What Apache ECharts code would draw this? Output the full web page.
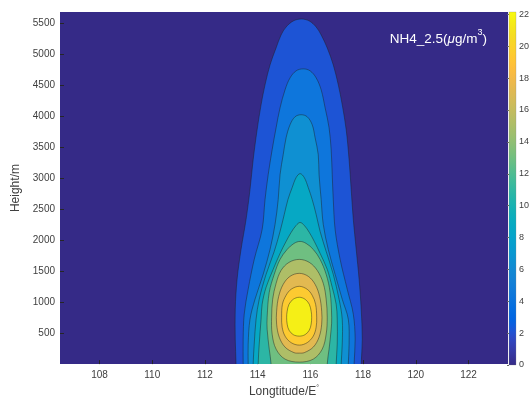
<!DOCTYPE html>
<html><head><meta charset="utf-8">
<script src="https://cdn.jsdelivr.net/npm/echarts@6/dist/echarts.min.js"></script>
<style>html,body{margin:0;padding:0;background:#fff}#c{width:532px;height:403px}</style>
</head><body><div id="c"></div>
<script>
// ---- data ----
const lonTicks = [108,110,112,114,116,118,120,122];
const heightTicks = [500,1000,1500,2000,2500,3000,3500,4000,4500,5000,5500];
const colorbarTicks = [0,2,4,6,8,10,12,14,16,18,20,22];
const levels = [2,4,6,8,10,12,14,16,18,20];
// contour lines: [longitude, height(m)]
const c02 = [[113.18,0],[113.15,402],[113.15,885],[113.22,1368],[113.37,1850],[113.56,2333],[113.71,2816],[113.83,3298],[113.98,3781],[114.13,4183],[114.28,4505],[114.47,4827],[114.70,5101],[114.89,5310],[115.08,5438],[115.35,5535],[115.65,5567],[115.96,5535],[116.22,5438],[116.41,5310],[116.64,5101],[116.87,4827],[117.06,4505],[117.21,4183],[117.36,3781],[117.47,3298],[117.55,2816],[117.63,2333],[117.74,1850],[117.85,1368],[117.93,885],[117.97,402],[117.93,0]];
const c04 = [[113.45,0],[113.45,402],[113.49,805],[113.64,1207],[113.87,1689],[114.17,2172],[114.28,2655],[114.40,3057],[114.55,3459],[114.70,3813],[114.85,4135],[115.04,4425],[115.23,4618],[115.46,4731],[115.73,4763],[115.99,4731],[116.22,4618],[116.41,4425],[116.56,4135],[116.71,3813],[116.79,3459],[116.83,3057],[116.87,2655],[116.94,2172],[117.13,1689],[117.40,1207],[117.63,805],[117.70,402],[117.66,0]];
const c06 = [[113.64,0],[113.64,322],[113.71,724],[113.90,1046],[114.21,1448],[114.47,1850],[114.66,2253],[114.78,2655],[114.85,3057],[114.97,3379],[115.08,3652],[115.23,3862],[115.42,3990],[115.65,4023],[115.88,3990],[116.07,3862],[116.18,3652],[116.30,3379],[116.33,3057],[116.41,2655],[116.49,2253],[116.68,1850],[116.94,1448],[117.21,1046],[117.44,724],[117.47,322],[117.44,0]];
const c08 = [[113.83,0],[113.87,322],[113.94,724],[114.06,1046],[114.32,1448],[114.63,1818],[114.85,2140],[115.01,2414],[115.15,2655],[115.31,2848],[115.46,3009],[115.61,3073],[115.77,3009],[115.92,2848],[116.07,2655],[116.22,2414],[116.37,2140],[116.60,1818],[116.87,1448],[117.09,1046],[117.21,724],[117.21,322],[117.17,0]];
const c10 = [[114.02,0],[114.06,322],[114.13,724],[114.17,965],[114.32,1239],[114.59,1529],[114.85,1786],[115.08,1979],[115.27,2124],[115.46,2237],[115.61,2285],[115.77,2237],[115.96,2124],[116.15,1979],[116.37,1786],[116.64,1529],[116.83,1239],[116.98,965],[117.02,724],[117.02,322],[116.98,0]];
const c12 = [[114.51,0],[114.44,241],[114.36,563],[114.36,756],[114.44,1158],[114.63,1448],[114.85,1689],[115.12,1850],[115.38,1947],[115.61,1979],[115.84,1947],[116.11,1850],[116.37,1689],[116.60,1448],[116.75,1158],[116.81,756],[116.79,563],[116.71,241],[116.64,0]];
const c14 = [[115.58,1689],[115.96,1641],[116.26,1512],[116.49,1303],[116.60,1046],[116.64,756],[116.60,483],[116.45,241],[116.11,80],[115.58,32],[115.04,80],[114.70,241],[114.55,483],[114.53,756],[114.57,1046],[114.70,1303],[114.89,1512],[115.19,1641]];
const c16 = [[115.58,1464],[115.92,1416],[116.18,1287],[116.35,1094],[116.43,853],[116.43,644],[116.33,434],[116.11,274],[115.77,185],[115.58,177],[115.38,185],[115.04,274],[114.82,434],[114.72,644],[114.72,853],[114.80,1094],[114.97,1287],[115.23,1416]];
const c18 = [[115.58,1255],[115.88,1207],[116.07,1110],[116.20,965],[116.24,756],[116.22,595],[116.11,451],[115.88,346],[115.58,306],[115.27,346],[115.04,451],[114.93,595],[114.91,756],[114.94,965],[115.08,1110],[115.27,1207]];
const c20 = [[115.58,1078],[115.80,1046],[115.96,965],[116.03,853],[116.05,756],[116.03,644],[115.96,547],[115.80,475],[115.58,451],[115.35,475],[115.19,547],[115.12,644],[115.10,756],[115.12,853],[115.19,965],[115.35,1046]];
const contours = [c02,c04,c06,c08,c10,c12,c14,c16,c18,c20];
const CMIN = 0, CMAX = 22.15;   // colorbar range
const FILL_MAX = 20.5;          // colour scale used for the filled bands

// ---- style: parula colormap ----
const PARULA = [[0.2081,0.1663,0.5292],[0.2116,0.1898,0.5777],[0.2123,0.2138,0.6270],[0.2081,0.2386,0.6771],[0.1959,0.2645,0.7279],[0.1707,0.2919,0.7792],[0.1253,0.3242,0.8303],[0.0591,0.3598,0.8683],[0.0117,0.3875,0.8820],[0.0060,0.4086,0.8828],[0.0165,0.4266,0.8786],[0.0329,0.4430,0.8720],[0.0498,0.4586,0.8641],[0.0629,0.4737,0.8554],[0.0723,0.4887,0.8467],[0.0779,0.5040,0.8384],[0.0793,0.5200,0.8312],[0.0749,0.5375,0.8263],[0.0641,0.5570,0.8240],[0.0488,0.5772,0.8228],[0.0343,0.5966,0.8199],[0.0265,0.6137,0.8135],[0.0239,0.6287,0.8038],[0.0231,0.6418,0.7913],[0.0228,0.6535,0.7768],[0.0267,0.6642,0.7607],[0.0384,0.6743,0.7436],[0.0590,0.6838,0.7254],[0.0843,0.6928,0.7062],[0.1133,0.7015,0.6859],[0.1453,0.7098,0.6646],[0.1801,0.7177,0.6424],[0.2178,0.7250,0.6193],[0.2586,0.7317,0.5954],[0.3022,0.7376,0.5712],[0.3482,0.7424,0.5473],[0.3953,0.7459,0.5244],[0.4420,0.7481,0.5033],[0.4871,0.7491,0.4840],[0.5300,0.7491,0.4661],[0.5709,0.7485,0.4494],[0.6099,0.7473,0.4337],[0.6473,0.7456,0.4188],[0.6834,0.7435,0.4044],[0.7184,0.7411,0.3905],[0.7525,0.7384,0.3768],[0.7858,0.7356,0.3633],[0.8185,0.7327,0.3498],[0.8507,0.7299,0.3360],[0.8824,0.7274,0.3217],[0.9139,0.7258,0.3063],[0.9450,0.7261,0.2886],[0.9739,0.7314,0.2666],[0.9938,0.7455,0.2403],[0.9990,0.7653,0.2164],[0.9955,0.7861,0.1967],[0.9880,0.8066,0.1794],[0.9789,0.8271,0.1633],[0.9697,0.8481,0.1475],[0.9626,0.8705,0.1309],[0.9589,0.8949,0.1132],[0.9598,0.9218,0.0948],[0.9661,0.9514,0.0755],[0.9763,0.9831,0.0538]];
function rgb(c){return 'rgb('+c.map(v=>Math.round(v*255)).join(',')+')';}
function parula(v,vmax){
  const f=Math.min(1,Math.max(0,v/vmax))*63;
  const i=Math.floor(f), j=Math.min(63,i+1), a=f-i;
  return rgb(PARULA[i].map((x,k)=>x+(PARULA[j][k]-x)*a));
}
const FONT = 'Liberation Sans, Arial, Helvetica, sans-serif';
const TXT = '#404040';
const plain = v => String(v);

const chart = echarts.init(document.getElementById('c'), null, {renderer:'canvas'});
chart.setOption({
  animation:false,
  title:{
    text:'{a|NH4_2.5(}{mu|μ}{a|g/m}{sup|3}{a|)}',
    right:40, top:23,
    textStyle:{fontWeight:'normal',rich:{
      a:{fontFamily:FONT,fontSize:13.5,fontWeight:'normal',color:'#fff',lineHeight:18,verticalAlign:'bottom'},
      mu:{fontFamily:FONT,fontSize:13.5,fontWeight:'normal',color:'#fff',fontStyle:'italic',lineHeight:18,verticalAlign:'bottom'},
      sup:{fontFamily:FONT,fontSize:9,fontWeight:'normal',color:'#fff',lineHeight:18,verticalAlign:'top'}
    }}
  },
  grid:[
    {left:60,right:24,top:12,bottom:38,show:true,backgroundColor:parula(0,FILL_MAX),borderWidth:0},
    {left:509,width:8,top:12,bottom:38,show:false}
  ],
  xAxis:[
    {type:'value',gridIndex:0,min:106.5,max:123.5,
     name:'{a|Longtitude/E}{s|°}',nameLocation:'middle',nameGap:19,
     nameTextStyle:{rich:{a:{fontFamily:FONT,fontSize:12,color:TXT},s:{fontFamily:FONT,fontSize:7,color:TXT,verticalAlign:'top',lineHeight:14}}},
     axisLine:{show:false},splitLine:{show:false},
     axisTick:{show:true,inside:true,length:4,lineStyle:{color:'#262626'},customValues:lonTicks},
     axisLabel:{color:TXT,fontFamily:FONT,fontSize:10,margin:6,customValues:lonTicks,formatter:plain}},
    {type:'value',gridIndex:1,min:0,max:1,show:false}
  ],
  yAxis:[
    {type:'value',gridIndex:0,min:0,max:5680,
     name:'Height/m',nameLocation:'middle',nameGap:31,
     nameTextStyle:{fontFamily:FONT,fontSize:12,color:TXT},
     axisLine:{show:false},splitLine:{show:false},
     axisTick:{show:true,inside:true,length:4,lineStyle:{color:'#262626'},customValues:heightTicks},
     axisLabel:{color:TXT,fontFamily:FONT,fontSize:10,margin:5,customValues:heightTicks,formatter:plain}},
    {type:'value',gridIndex:1,min:CMIN,max:CMAX,position:'right',
     axisLine:{show:false},splitLine:{show:false},
     axisTick:{show:true,inside:true,length:2,lineStyle:{color:'#666'},customValues:colorbarTicks},
     axisLabel:{color:TXT,fontFamily:FONT,fontSize:9,margin:3,customValues:colorbarTicks,formatter:plain}}
  ],
  series:[
    {type:'custom',xAxisIndex:0,yAxisIndex:0,clip:true,silent:true,
     data:contours.map((c,i)=>[c[0][0],c[0][1],i]),
     encode:{x:0,y:1},
     renderItem:function(params,api){
       const i=api.value(2);
       let pts=contours[i].slice();
       if(pts[0][1]<=0){ // open contour crossing the ground: close below the axis
         pts=[[pts[0][0],-300]].concat(pts,[[pts[pts.length-1][0],-300]]);
       }
       const px=pts.map(p=>api.coord(p));
       return {type:'polygon',shape:{points:px,smooth:0.35},
         style:{fill:parula(levels[i],FILL_MAX),stroke:'rgba(30,30,30,0.65)',lineWidth:0.7}};
     }},
    {type:'custom',xAxisIndex:1,yAxisIndex:1,silent:true,
     data:[[0,CMIN]],
     renderItem:function(params,api){
       const p0=api.coord([0,CMAX]), p1=api.coord([1,CMIN]);
       const stops=PARULA.map((c,k)=>({offset:k/63,color:rgb(c)}));
       return {type:'rect',shape:{x:p0[0],y:p0[1],width:p1[0]-p0[0],height:p1[1]-p0[1]},
         style:{fill:new echarts.graphic.LinearGradient(0,1,0,0,stops),stroke:'rgba(120,120,120,0.5)',lineWidth:0.5}};
     }}
  ]
});
</script></body></html>
